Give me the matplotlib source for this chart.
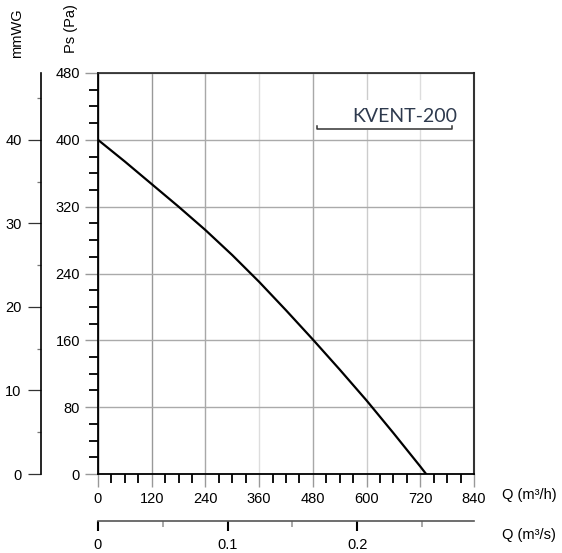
import numpy as np
import matplotlib
matplotlib.use("Agg")
import matplotlib.pyplot as plt
from matplotlib.ticker import MultipleLocator
from matplotlib.patches import Rectangle

# fan curve (Q in m3/h, static pressure in Pa)
q_h = [0, 60, 120, 180, 240, 300, 360, 420, 480, 540, 600, 660, 720, 733]
ps_pa = [400, 374, 347, 320, 292, 262, 230, 196, 161, 125, 88, 49, 9, 0]

q_h_ticks = [0, 120, 240, 360, 480, 600, 720, 840]
ps_ticks = [0, 80, 160, 240, 320, 400, 480]
mmwg_ticks = [0, 10, 20, 30, 40]
q_s_ticks = [0, 0.1, 0.2]
q_s_labels = ["0", "0.1", "0.2"]
model_name = "KVENT-200"

plt.rcParams["font.family"] = ["Liberation Sans", "DejaVu Sans"]
plt.rcParams["font.size"] = 10.5

W, H = 562, 553
fig = plt.figure(figsize=(W / 100, H / 100), dpi=100)


def px(x0, y0, x1, y1):
    """pixel box (top-left origin) -> figure fraction rect"""
    return [x0 / W, 1 - y1 / H, (x1 - x0) / W, (y1 - y0) / H]


ax = fig.add_axes(px(98, 73, 474, 474))
ax.plot(q_h, ps_pa, color="black", lw=1.6, zorder=3)
ax.set_xlim(0, 840)
ax.set_ylim(0, 480)
ax.set_xticks(q_h_ticks)
ax.set_yticks(ps_ticks)
ax.xaxis.set_minor_locator(MultipleLocator(30))
ax.yaxis.set_minor_locator(MultipleLocator(20))
ax.tick_params(which="major", length=9.4, width=1.0, color="#999999", pad=3.5, labelsize=10.5)
ax.tick_params(which="minor", length=6.5, width=1.3, color="black")
ax.grid(True, which="major", lw=1.0)

# vertical grid lines have different shades in the original
x_shades = ["#222222", "#999999", "#a8a8a8", "#dddddd", "#a8a8a8", "#cccccc", "#dddddd", "#222222"]
for tick, shade in zip(ax.xaxis.get_major_ticks(), x_shades):
    tick.gridline.set_color(shade)
    tick.tick1line.set_color(shade)
for tick in ax.yaxis.get_major_ticks():
    tick.gridline.set_color("#aaaaaa")

for side in ["left", "bottom"]:
    ax.spines[side].set_linewidth(1.3)
    ax.spines[side].set_color("black")
ax.spines["top"].set_linewidth(1.2)
ax.spines["top"].set_color("#222222")
ax.spines["right"].set_linewidth(1.5)
ax.spines["right"].set_color("#333333")

# mmWG scale on the far left (1 mmWG ~ 10 Pa)
sec = ax.secondary_yaxis((41 - 98) / 376, functions=(lambda p: p / 10, lambda m: m * 10))
sec.set_yticks(mmwg_ticks)
sec.yaxis.set_minor_locator(MultipleLocator(5))
sec.tick_params(which="major", length=9.4, width=0.9, color="#333333", pad=4.5, labelsize=10.5)
sec.tick_params(which="minor", length=3, width=0.9, color="#777777")
sec.spines["left"].set_linewidth(1.2)

# model label with white patch behind it
ax.add_patch(Rectangle((489, 412), 313, 36, facecolor="white", edgecolor="none", zorder=2))
ax.text(802, 421, model_name, ha="right", va="baseline", fontsize=14,
        family=["Lato", "DejaVu Sans"], color="#2e3a4e", zorder=4)
ax.plot([489, 489, 791, 791], [416.5, 413, 413, 416.5], color="#333333", lw=1.1, zorder=4)

# second flow axis in m3/s
ax2 = fig.add_axes(px(98, 520, 474, 521))
ax2.set_xlim(0, 0.29)
ax2.set_yticks([])
for side in ["left", "right", "top"]:
    ax2.spines[side].set_visible(False)
ax2.spines["bottom"].set_color("#555555")
ax2.spines["bottom"].set_linewidth(1.2)
ax2.patch.set_alpha(0)
ax2.set_xticks(q_s_ticks)
ax2.set_xticklabels(q_s_labels)
ax2.xaxis.set_minor_locator(MultipleLocator(0.05))
ax2.tick_params(which="major", length=7.2, width=1.5, color="black", pad=5.0, labelsize=10.5)
ax2.tick_params(which="minor", length=4.3, width=1.2, color="#999999")

fig.text(17 / W, 1 - 33 / H, "mmWG", rotation=90, ha="center", va="center", fontsize=10.5)
fig.text(71 / W, 1 - 29 / H, "Ps (Pa)", rotation=90, ha="center", va="center", fontsize=10.5)
fig.text(502 / W, 1 - 495 / H, "Q (m³/h)", ha="left", va="center", fontsize=10.5)
fig.text(502 / W, 1 - 535 / H, "Q (m³/s)", ha="left", va="center", fontsize=10.5)

fig.savefig("out.png", dpi=100)
